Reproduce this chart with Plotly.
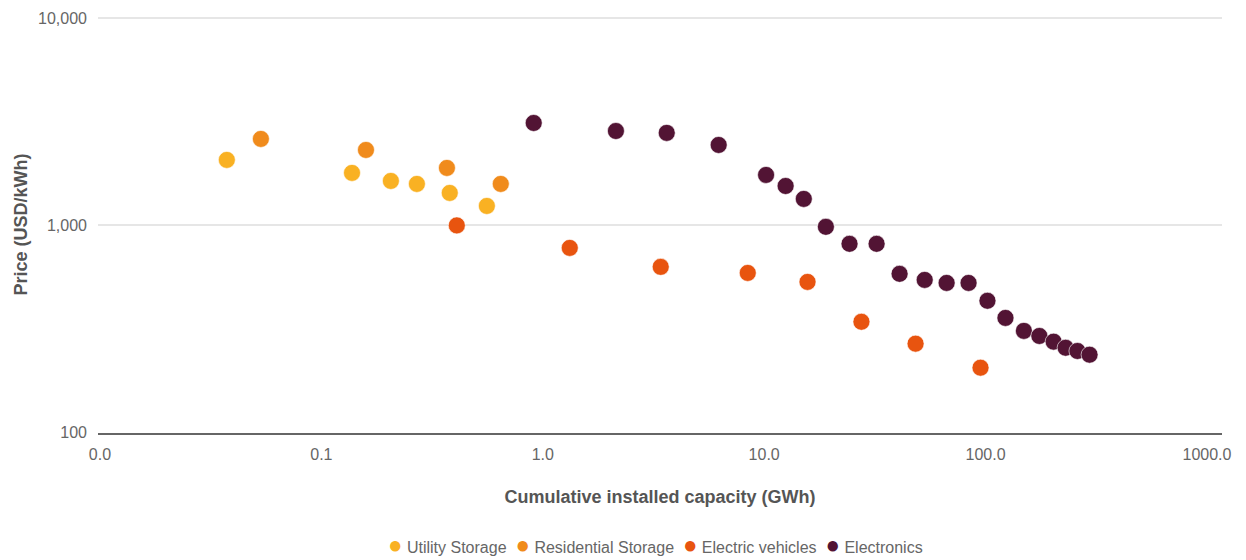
import plotly.graph_objects as go

utility_x = [0.0374, 0.1375, 0.206, 0.270, 0.380, 0.559]
utility_y = [2069, 1791, 1638, 1585, 1434, 1241]

residential_x = [0.0533, 0.159, 0.369, 0.646]
residential_y = [2612, 2311, 1893, 1585]

ev_x = [0.409, 1.324, 3.41, 8.43, 15.7, 27.5, 48.3, 94.9]
ev_y = [1000, 779, 631, 590, 534, 343, 269, 206]

electronics_x = [0.910, 2.14, 3.63, 6.23, 10.2, 12.5, 15.1, 19.0, 24.3, 32.2, 40.9,
                 53.1, 66.7, 83.8, 102, 123, 149, 175, 203, 230, 260, 295]
electronics_y = [3118, 2852, 2793, 2443, 1751, 1549, 1342, 984, 815, 815, 584,
                 546, 528, 528, 433, 358, 310, 293, 275, 257, 248, 238]

x_tickvals = [0.01, 0.1, 1, 10, 100, 1000]
x_ticktext = ["0.0", "0.1", "1.0", "10.0", "100.0", "1000.0"]
y_tickvals = [100, 1000, 10000]
y_ticktext = ["100", "1,000", "10,000"]

series = [
    ("Utility Storage", utility_x, utility_y, "#F9B123"),
    ("Residential Storage", residential_x, residential_y, "#F08B1C"),
    ("Electric vehicles", ev_x, ev_y, "#E8540F"),
    ("Electronics", electronics_x, electronics_y, "#521434"),
]

fig = go.Figure()
for name, xs, ys, color in series:
    fig.add_trace(go.Scatter(
        x=xs, y=ys, mode="markers", name=name, showlegend=False,
        marker=dict(size=17, color=color, line=dict(width=0.6, color="white")),
        cliponaxis=False,
    ))

# compact legend line (same entries as the traces)
legend_html = "&nbsp;&nbsp;".join(
    f"<span style='color:{color};font-size:24px'>●</span>&nbsp;{name}"
    for name, _, _, color in series
)
fig.add_annotation(
    text=legend_html, xref="paper", yref="paper", x=0.4964, y=-0.2665,
    xanchor="center", yanchor="middle", showarrow=False,
    font=dict(size=16, color="#666666"),
)

font_family = "Liberation Sans, Arial, sans-serif"
fig.update_layout(
    width=1246, height=560,
    margin=dict(l=90, r=32, t=8, b=135),
    plot_bgcolor="white", paper_bgcolor="white",
    font=dict(family=font_family, color="#666666", size=15),
    showlegend=False,
    xaxis=dict(
        type="log", range=[-2.009, 3.068], automargin=False,
        tickvals=x_tickvals, ticktext=x_ticktext,
        showgrid=False, zeroline=False,
        showline=True, linecolor="#666666", linewidth=1.5,
        ticks="", ticklabelstandoff=6, tickfont=dict(size=16, color="#666666"),
        title=dict(text="<b>Cumulative installed capacity (GWh)</b>",
                   font=dict(size=18, color="#555555"), standoff=28),
    ),
    yaxis=dict(
        type="log", range=[1.999, 4.0096], automargin=False,
        tickvals=y_tickvals, ticktext=y_ticktext,
        showgrid=True, gridcolor="#e6e6e6", gridwidth=1.5,
        zeroline=False, showline=False, ticks="", ticklabelstandoff=10,
        tickfont=dict(size=16, color="#666666"),
        title=dict(text="<b>Price (USD/kWh)</b>",
                   font=dict(size=18, color="#555555"), standoff=5),
    ),
)

fig.write_html("out.html")
